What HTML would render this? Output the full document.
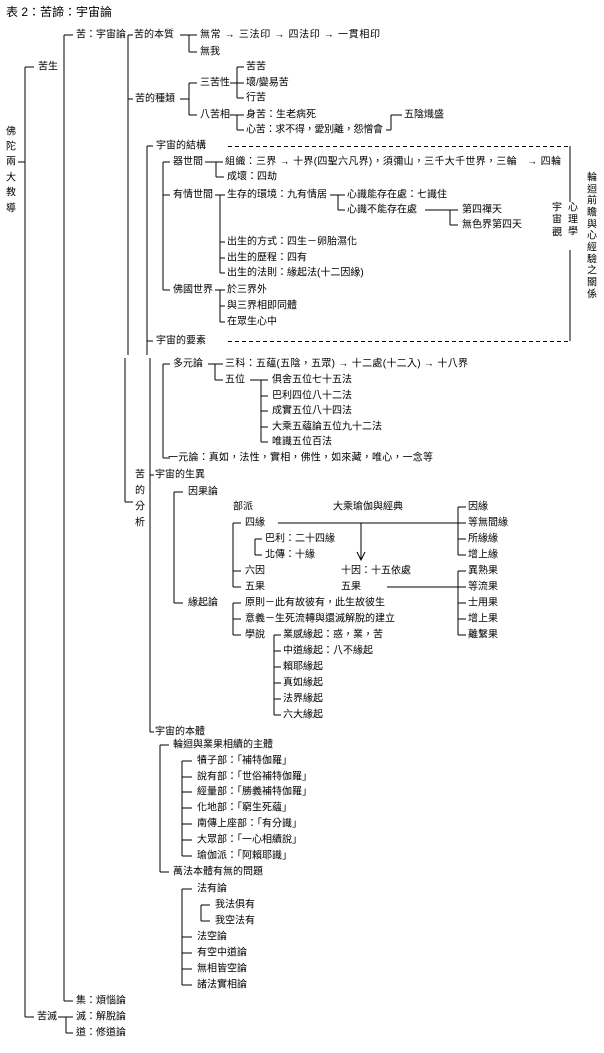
<!DOCTYPE html>
<html><head><meta charset="utf-8">
<style>
html,body{margin:0;padding:0;background:#fff;}
svg{display:block;}
text{font-family:"Liberation Sans","Noto Sans CJK TC",sans-serif;font-size:10px;fill:#000;dominant-baseline:central;}
.t{font-size:12px;}
.m{text-anchor:middle;}
</style></head><body>
<svg width="604" height="1053" viewBox="0 0 604 1053" xmlns="http://www.w3.org/2000/svg">
<g stroke="#000" stroke-width="1" fill="none" shape-rendering="crispEdges">
<path d="M18,162H25 M25,67V1017 M25,67H34 M25,1017H34"/>
<path d="M64,35V1001 M64,35H73 M64,1001H73"/>
<path d="M58,1017H73 M66,1017V1033 M66,1033H73"/>
<path d="M128,35V355 M128,35H133 M128,99H133 M125,358V502 M125,502H133"/>
<path d="M180,35H197 M189,35V52 M189,52H197"/>
<path d="M180,99H189 M189,83V115 M189,83H197 M189,115H197"/>
<path d="M230,83H244 M237,67V98 M237,67H244 M237,98H244"/>
<path d="M230,115H244 M237,115V130 M237,130H244"/>
<path d="M386,130H391 M391,115V130 M391,115H402"/>
<path d="M147,146V355 M147,146H153 M147,341H153 M150,358V732 M150,475H154 M150,732H154"/>
<path d="M570,146V202 M570,250V341"/>
<path d="M163,162V290 M163,162H170 M163,195H170 M163,290H170"/>
<path d="M205,162H223 M216,162V177 M216,177H224"/>
<path d="M215,195H225 M220,195V273 M220,242H225 M220,258H225 M220,273H225"/>
<path d="M330,195H345 M338,195V210 M338,210H345"/>
<path d="M425,210H458 M450,210V225 M450,225H458"/>
<path d="M215,290H225 M220,290V322 M220,306H225 M220,322H225"/>
<path d="M163,364V458 M163,364H170 M163,458H170"/>
<path d="M208,364H223 M215,364V380 M215,380H223"/>
<path d="M250,380H268 M261,380V442 M261,396H268 M261,411H268 M261,427H268 M261,442H268"/>
<path d="M174,492V603 M174,492H183 M174,603H183"/>
<path d="M233,523V587 M233,523H241 M233,571H241 M233,587H241"/>
<path d="M255,539V555 M255,539H262 M255,555H262"/>
<path d="M278,523H463 M387,587H463 M361,523V560"/>
<path d="M458,507V555 M458,507H466 M458,523H466 M458,539H466 M458,555H466"/>
<path d="M458,571V635 M458,571H466 M458,587H466 M458,603H466 M458,619H466 M458,635H466"/>
<path d="M233,603V635 M233,603H241 M233,619H241 M233,635H241"/>
<path d="M274,635V715 M274,635H281 M274,651H281 M274,667H281 M274,683H281 M274,699H281 M274,715H281"/>
<path d="M160,745V872 M160,745H169 M160,872H169"/>
<path d="M182,761V856 M182,761H192 M182,777H192 M182,792H192 M182,808H192 M182,824H192 M182,840H192 M182,856H192"/>
<path d="M182,889V985 M182,889H192 M182,937H192 M182,953H192 M182,969H192 M182,985H192"/>
<path d="M201,905V921 M201,905H210 M201,921H210"/>
</g>
<g stroke="#000" stroke-width="1" fill="none">
<path d="M357,552L361,560L365,552"/>
<path d="M228,146.5H570 M228,341.5H570" stroke-dasharray="4,3"/>
</g>
<text class="t" x="6" y="12">表 2：苦諦：宇宙論</text>
<text class="m" x="11" y="132">佛</text><text class="m" x="11" y="147">陀</text><text class="m" x="11" y="162">兩</text><text class="m" x="11" y="178">大</text><text class="m" x="11" y="193">教</text><text class="m" x="11" y="209">導</text>
<text x="38" y="67">苦生</text>
<text x="76" y="35">苦：宇宙論</text>
<text x="134" y="35">苦的本質</text>
<text x="200" y="35" textLength="180" lengthAdjust="spacing">無常 → 三法印 → 四法印 → 一貫相印</text>
<text x="200" y="52">無我</text>
<text x="246" y="67">苦苦</text>
<text x="246" y="83">壞/變易苦</text>
<text x="246" y="98">行苦</text>
<text x="200" y="83">三苦性</text>
<text x="135" y="99">苦的種類</text>
<text x="200" y="115">八苦相</text>
<text x="246" y="115">身苦：生老病死</text>
<text x="246" y="130" textLength="137" lengthAdjust="spacing">心苦：求不得，愛別離，怨憎會</text>
<text x="404" y="115">五陰熾盛</text>
<text x="156" y="146">宇宙的結構</text>
<text x="173" y="162">器世間</text>
<text x="225" y="162" textLength="336" lengthAdjust="spacing">組織：三界 → 十界(四聖六凡界)，須彌山，三千大千世界，三輪　→ 四輪</text>
<text x="227" y="177">成壞：四劫</text>
<text x="173" y="195">有情世間</text>
<text x="227" y="195">生存的環境：九有情居</text>
<text x="347" y="195">心識能存在處：七識住</text>
<text x="347" y="210">心識不能存在處</text>
<text x="462" y="210">第四禪天</text>
<text x="462" y="225">無色界第四天</text>
<text x="227" y="242">出生的方式：四生－卵胎濕化</text>
<text x="227" y="258">出生的歷程：四有</text>
<text x="227" y="273">出生的法則：緣起法(十二因緣)</text>
<text x="173" y="290">佛國世界</text>
<text x="227" y="290">於三界外</text>
<text x="227" y="306">與三界相即同體</text>
<text x="227" y="322">在眾生心中</text>
<text x="156" y="341">宇宙的要素</text>
<text class="m" x="557" y="208">宇</text><text class="m" x="557" y="220">宙</text><text class="m" x="557" y="233">觀</text>
<text class="m" x="573" y="208">心</text><text class="m" x="573" y="220">理</text><text class="m" x="573" y="232">學</text>
<text class="m" x="592" y="178">輪</text><text class="m" x="592" y="190">迴</text><text class="m" x="592" y="201">前</text><text class="m" x="592" y="213">瞻</text><text class="m" x="592" y="225">與</text><text class="m" x="592" y="236">心</text><text class="m" x="592" y="248">經</text><text class="m" x="592" y="260">驗</text><text class="m" x="592" y="271">之</text><text class="m" x="592" y="283">關</text><text class="m" x="592" y="295">係</text>
<text x="173" y="364">多元論</text>
<text x="225" y="364" textLength="243" lengthAdjust="spacing">三科：五蘊(五陰，五眾) → 十二處(十二入) → 十八界</text>
<text x="225" y="380">五位</text>
<text x="272" y="380">俱舍五位七十五法</text>
<text x="272" y="396">巴利四位八十二法</text>
<text x="272" y="411">成實五位八十四法</text>
<text x="272" y="427">大乘五蘊論五位九十二法</text>
<text x="272" y="442">唯識五位百法</text>
<text x="168" y="458" textLength="265" lengthAdjust="spacing">一元論：真如，法性，實相，佛性，如來藏，唯心，一念等</text>
<text class="m" x="140" y="475">苦</text><text class="m" x="140" y="491">的</text><text class="m" x="140" y="507">分</text><text class="m" x="140" y="523">析</text>
<text x="155" y="475">宇宙的生異</text>
<text x="188" y="492">因果論</text>
<text x="233" y="507">部派</text>
<text x="333" y="507">大乘瑜伽與經典</text>
<text x="245" y="523">四緣</text>
<text x="265" y="539">巴利：二十四緣</text>
<text x="265" y="555">北傳：十緣</text>
<text x="245" y="571">六因</text>
<text x="245" y="587">五果</text>
<text x="341" y="571">十因：十五依處</text>
<text x="341" y="587">五果</text>
<text x="468" y="507">因緣</text>
<text x="468" y="523">等無間緣</text>
<text x="468" y="539">所緣緣</text>
<text x="468" y="555">增上緣</text>
<text x="468" y="571">異熟果</text>
<text x="468" y="587">等流果</text>
<text x="468" y="603">士用果</text>
<text x="468" y="619">增上果</text>
<text x="468" y="635">離繫果</text>
<text x="188" y="603">緣起論</text>
<text x="245" y="603">原則－此有故彼有，此生故彼生</text>
<text x="245" y="619">意義－生死流轉與還滅解脫的建立</text>
<text x="245" y="635">學說</text>
<text x="283" y="635">業感緣起：惑，業，苦</text>
<text x="283" y="651">中道緣起：八不緣起</text>
<text x="283" y="667">賴耶緣起</text>
<text x="283" y="683">真如緣起</text>
<text x="283" y="699">法界緣起</text>
<text x="283" y="715">六大緣起</text>
<text x="155" y="732">宇宙的本體</text>
<text x="173" y="745">輪迴與業果相續的主體</text>
<text x="197" y="761">犢子部：「補特伽羅」</text>
<text x="197" y="777">說有部：「世俗補特伽羅」</text>
<text x="197" y="792">經量部：「勝義補特伽羅」</text>
<text x="197" y="808">化地部：「窮生死蘊」</text>
<text x="197" y="824">南傳上座部：「有分識」</text>
<text x="197" y="840">大眾部：「一心相續說」</text>
<text x="197" y="856">瑜伽派：「阿賴耶識」</text>
<text x="173" y="872">萬法本體有無的問題</text>
<text x="197" y="889">法有論</text>
<text x="215" y="905">我法俱有</text>
<text x="215" y="921">我空法有</text>
<text x="197" y="937">法空論</text>
<text x="197" y="953">有空中道論</text>
<text x="197" y="969">無相皆空論</text>
<text x="197" y="985">諸法實相論</text>
<text x="76" y="1001">集：煩惱論</text>
<text x="37" y="1017">苦滅</text>
<text x="76" y="1017">滅：解脫論</text>
<text x="76" y="1033">道：修道論</text>
</svg>
</body></html>
